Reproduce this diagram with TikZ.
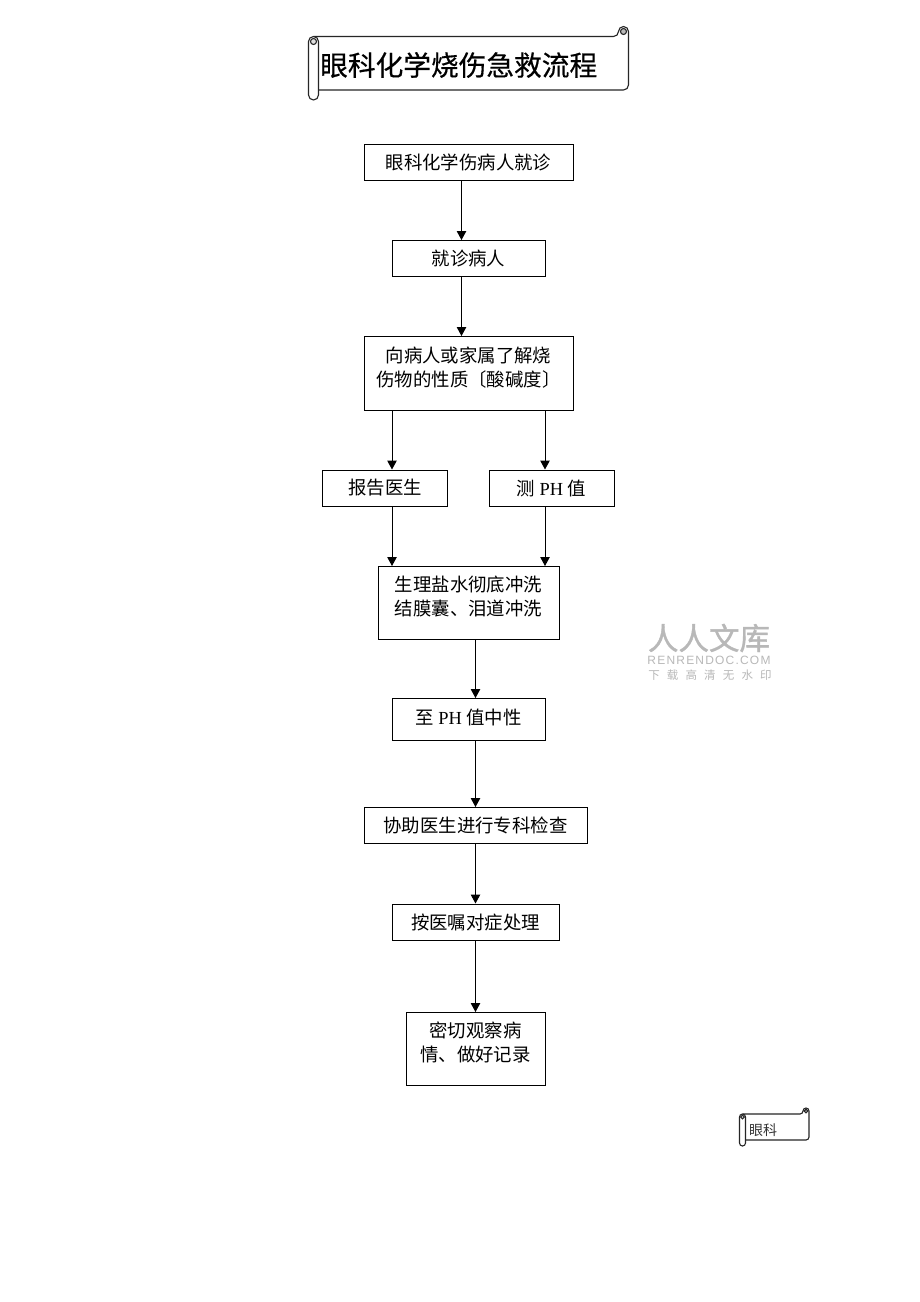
\documentclass[tikz,border=0pt]{standalone}
\usepackage{fontspec}
\setmainfont{Liberation Serif}
\newfontfamily\cjk{Noto Sans CJK SC}
\newfontfamily\cjktitle[FakeBold=0.5]{Noto Sans CJK SC}
\newfontfamily\wmbig[FakeBold=1.2]{Noto Sans CJK SC}
\newfontfamily\wmcjk[LetterSpace=62]{Noto Sans CJK SC}
\newfontfamily\wmlat[LetterSpace=10]{Liberation Sans}
\usetikzlibrary{arrows.meta}
\newcommand\scrollshape[5]{%
  \pgfmathsetmacro\scrTop{#2+2*#5}%
  \pgfmathsetmacro\scrBot{#4-2*#5}%
  \pgfmathsetmacro\scrLx{#1+2*#5}%
  \pgfmathsetmacro\scrMx{#1+#5}%
  \pgfmathsetmacro\scrRx{#3-2*#5}%
  \pgfmathsetmacro\scrCx{#3-#5}%
  \pgfmathsetmacro\scrCy{#2+#5}%
  \pgfmathsetmacro\scrDy{#2+3*#5}%
  \pgfmathsetmacro\scrRr{0.6*#5}%
  \draw[scrollline,rounded corners=#5pt] (\scrMx,\scrTop) -- (\scrRx,\scrTop) -- (\scrRx,#2) -- (#3,#2) -- (#3,\scrBot) -- (\scrLx,\scrBot);
  \draw[scrollline,rounded corners=#5pt,fill=white] (#1,\scrTop) rectangle (\scrLx,#4);
  \draw[scrollline,fill=gray!55] (\scrCx,\scrCy) circle[radius=\scrRr pt];
  \draw[scrollline,fill=gray!25] (\scrMx,\scrDy) circle[radius=\scrRr pt];
}
\tikzset{
  scrollline/.style={draw=black!85,line width=1.1pt},
  box/.style={draw=black,line width=1pt,inner sep=0pt,align=center,font=\fontsize{18.4}{24}\selectfont},
  conn/.style={draw=black,line width=1pt,-{Triangle[length=9pt,width=9.5pt]}},
  titletext/.style={inner sep=0pt,font=\fontsize{27.7}{30}\selectfont\cjktitle,text=black},
  smalltext/.style={inner sep=0pt,font=\fontsize{14}{16}\selectfont\cjk,text=black!80},
  wm/.style={inner sep=0pt,text=black!28},
}
\newcommand\zw[1]{{\cjk #1}}
\begin{document}
\begin{tikzpicture}[x=1pt,y=-1pt]
\fill[white] (0,0) rectangle (920,1302);
\useasboundingbox (0,0) rectangle (920,1302);
% scrolls
\scrollshape{308.5}{26.5}{628.5}{100}{5}
\node[titletext,anchor=west] (title) at (320,65) {眼科化学烧伤急救流程};
\scrollshape{739.5}{1108}{809}{1146}{3}
\node[smalltext,anchor=west] (small) at (749,1130) {眼科};
% column guides
\coordinate (cA) at (461.5,0);
\coordinate (cL) at (392,0);
\coordinate (cR) at (545,0);
\coordinate (cM) at (475.5,0);
% boxes
\node[box,minimum width=209pt,minimum height=36pt] (n1) at (468.5,162.5) {\zw{眼科化学伤病人就诊}\\[-22pt]};
\node[box,minimum width=153pt,minimum height=36pt] (n2) at (468.5,258.5) {\zw{就诊病人}\\[-22pt]};
\node[box,minimum width=209pt,minimum height=74pt] (n3) at (468.5,373.5) {\zw{向病人或家属了解烧}\\\zw{伤物的性质〔酸碱度〕}\\[-10pt]};
\node[box,minimum width=125pt,minimum height=36pt] (n4) at (385,488) {\zw{报告医生}};
\node[box,minimum width=125pt,minimum height=36pt] (n5) at (551.5,488) {\zw{测} PH \zw{值}};
\node[box,minimum width=181pt,minimum height=73pt] (n6) at (468.5,603) {\zw{生理盐水彻底冲洗}\\\zw{结膜囊、泪道冲洗}\\[-10pt]};
\node[box,minimum width=153pt,minimum height=42pt] (n7) at (468.5,719.5) {\zw{至} PH \zw{值中性}\\[-18pt]};
\node[box,minimum width=223pt,minimum height=36pt] (n8) at (475.5,825.5) {\zw{协助医生进行专科检查}};
\node[box,minimum width=167pt,minimum height=36pt] (n9) at (475.5,922) {\zw{按医嘱对症处理}};
\node[box,minimum width=139pt,minimum height=73pt] (n10) at (475.5,1049) {\zw{密切观察病}\\\zw{情、做好记录}\\[-10pt]};
% connectors
\draw[conn] (n1.south -| cA) -- (n2.north -| cA);
\draw[conn] (n2.south -| cA) -- (n3.north -| cA);
\draw[conn] (n3.south -| cL) -- (n4.north -| cL);
\draw[conn] (n3.south -| cR) -- (n5.north -| cR);
\draw[conn] (n4.south -| cL) -- (n6.north -| cL);
\draw[conn] (n5.south -| cR) -- (n6.north -| cR);
\draw[conn] (n6.south -| cM) -- (n7.north -| cM);
\draw[conn] (n7.south -| cM) -- (n8.north -| cM);
\draw[conn] (n8.south -| cM) -- (n9.north -| cM);
\draw[conn] (n9.south -| cM) -- (n10.north -| cM);
% watermark
\node[wm,anchor=center,font=\fontsize{30.5}{32}\selectfont\wmbig] (wm1) at (709,638) {人人文库};
\node[wm,anchor=center,font=\fontsize{12}{14}\selectfont\wmlat] (wm2) at (709,660.5) {RENRENDOC.COM};
\node[wm,anchor=center,font=\fontsize{11.5}{14}\selectfont\wmcjk] (wm3) at (710,675) {下载高清无水印};
\end{tikzpicture}
\end{document}
